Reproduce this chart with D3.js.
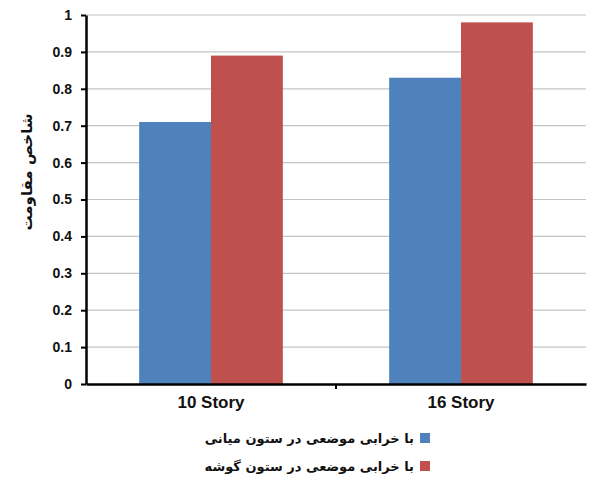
<!DOCTYPE html>
<html>
<head>
<meta charset="utf-8">
<script src="https://cdn.jsdelivr.net/npm/d3@7"></script>
<style>
  html, body { margin: 0; padding: 0; background: #fff; }
  svg { display: block; font-family: Arial, "Liberation Sans", sans-serif; }
</style>
</head>
<body>
<svg id="chart" width="590" height="479"></svg>
<script>
// Categories, series and values
const categories = ["10 Story", "16 Story"];
const seriesNames = [
  "با خرابی موضعی در ستون میانی",
  "با خرابی موضعی در ستون گوشه"
];
const seriesColors = ["#4F81BD", "#C0504D"];
const middleColumn = [0.71, 0.83];
const cornerColumn = [0.89, 0.98];
const yTicks = [0, 0.1, 0.2, 0.3, 0.4, 0.5, 0.6, 0.7, 0.8, 0.9, 1];
const yTickLabels = ["0", "0.1", "0.2", "0.3", "0.4", "0.5", "0.6", "0.7", "0.8", "0.9", "1"];
const yTitle = "شاخص مقاومت";

const seriesValues = [middleColumn, cornerColumn];

const svg = d3.select("#chart");
const plotLeft = 86, plotRight = 586, plotTop = 15, plotBottom = 384;

const x = d3.scaleBand().domain(categories).range([plotLeft, plotRight]).paddingInner(0).paddingOuter(0);
const xInner = d3.scaleBand().domain(d3.range(seriesNames.length))
  .range([0, x.bandwidth()]).paddingOuter(0.74).paddingInner(0);
const y = d3.scaleLinear().domain([0, 1]).range([plotBottom, plotTop]);

// Horizontal gridlines
svg.append("g").selectAll("line").data(yTicks.filter(d => d > 0)).join("line")
  .attr("x1", plotLeft).attr("x2", plotRight)
  .attr("y1", d => y(d)).attr("y2", d => y(d))
  .attr("stroke", "#c4c4c4").attr("stroke-width", 1.2);

// Bars
categories.forEach((cat, ci) => {
  seriesValues.forEach((vals, si) => {
    svg.append("rect")
      .attr("x", x(cat) + xInner(si))
      .attr("y", y(vals[ci]))
      .attr("width", xInner.bandwidth())
      .attr("height", y(0) - y(vals[ci]))
      .attr("fill", seriesColors[si]);
  });
});

// Y axis
const yAxis = d3.axisLeft(y).tickValues(yTicks)
  .tickFormat((d, i) => yTickLabels[i]).tickSize(5).tickSizeOuter(0).tickPadding(9);
const gy = svg.append("g").attr("transform", `translate(${plotLeft},0)`).call(yAxis);
gy.select(".domain").attr("stroke", "#000").attr("stroke-width", 2.5);
gy.selectAll(".tick line").attr("stroke", "#000").attr("stroke-width", 2);
gy.selectAll(".tick text").attr("font-size", 14).attr("font-weight", "bold").attr("fill", "#111");

// X axis
const xAxis = d3.axisBottom(x).tickSize(0).tickPadding(12);
const gx = svg.append("g").attr("transform", `translate(0,${plotBottom})`).call(xAxis);
gx.select(".domain").attr("stroke", "#000").attr("stroke-width", 2.5);
gx.selectAll(".tick text").attr("font-size", 17).attr("font-weight", "bold").attr("fill", "#111");
// boundary tick between categories
gx.append("line").attr("x1", x(categories[1])).attr("x2", x(categories[1]))
  .attr("y1", 0).attr("y2", 5).attr("stroke", "#000").attr("stroke-width", 2);

// Y title
svg.append("text")
  .attr("transform", `translate(32,172) rotate(-90)`)
  .attr("text-anchor", "middle")
  .attr("font-size", 15).attr("font-weight", "bold").attr("fill", "#111")
  .attr("font-family", "'DejaVu Sans', 'Noto Sans', sans-serif")
  .text(yTitle);

// Legend
const legend = svg.append("g");
seriesNames.forEach((name, i) => {
  const ly = 440 + i * 28;
  legend.append("rect").attr("x", 420).attr("y", ly - 7).attr("width", 10).attr("height", 10)
    .attr("fill", seriesColors[i]);
  legend.append("text").attr("x", 414).attr("y", ly + 3)
    .attr("text-anchor", "end")
    .attr("font-size", 13).attr("font-weight", "bold").attr("fill", "#111")
    .attr("font-family", "'DejaVu Sans', 'Noto Sans', sans-serif")
    .text(name);
});
</script>
</body>
</html>
